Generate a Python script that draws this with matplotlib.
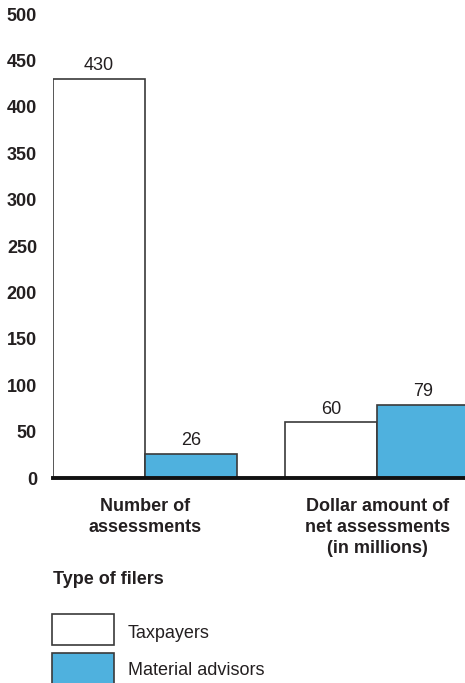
import matplotlib.pyplot as plt
from matplotlib.patches import Rectangle

plt.rcParams['font.family'] = ['Liberation Sans', 'DejaVu Sans']

# data
categories = ["Number of\nassessments", "Dollar amount of\nnet assessments\n(in millions)"]
taxpayers = [430, 60]
advisors = [26, 79]
series_names = ["Taxpayers", "Material advisors"]
yticks = [0, 50, 100, 150, 200, 250, 300, 350, 400, 450, 500]

txt = "#231f20"
blue = "#4fb1de"
edge = "#3a3a3a"
fs = 13

fig = plt.figure(figsize=(4.65, 6.83), dpi=100)
ax = fig.add_axes([0.114, 0.300, 0.886, 0.6795])

w = 0.397
xs = [0, 1]
b1 = ax.bar([x - w / 2 for x in xs], taxpayers, width=w, color="white",
            edgecolor=edge, linewidth=1.2)
b2 = ax.bar([x + w / 2 for x in xs], advisors, width=w, color=blue,
            edgecolor=edge, linewidth=1.2)

for bars, vals in [(b1, taxpayers), (b2, advisors)]:
    for r, v in zip(bars, vals):
        ax.text(r.get_x() + r.get_width() / 2, v + 5, str(v), ha="center",
                va="bottom", fontsize=fs, color=txt)

ax.set_xlim(-0.397, 1.379)
ax.set_ylim(0, 500)
ax.set_yticks(yticks)
ax.set_yticklabels([str(t) for t in yticks], fontweight="bold", fontsize=fs, color=txt)
ax.tick_params(axis="y", length=0, pad=11.5)
ax.set_xticks([])
for s in ["top", "right", "left"]:
    ax.spines[s].set_visible(False)
ax.spines["bottom"].set_linewidth(2.8)
ax.spines["bottom"].set_color("#111111")

# category labels under the groups
for x, lab in zip(xs, categories):
    ax.annotate(lab, xy=(x, 0), xycoords=("data", "axes fraction"),
                xytext=(0, -20), textcoords="offset pixels", ha="center", va="top",
                fontsize=fs, fontweight="bold", color=txt, linespacing=1.3)

# legend
fig.text(0.114, 0.151, "Type of filers", fontsize=fs, fontweight="bold",
         color=txt, va="center", ha="left")
fig.patches.append(Rectangle((0.112, 0.0556), 0.133, 0.0454, transform=fig.transFigure,
                             facecolor="white", edgecolor=edge, linewidth=1.2))
fig.patches.append(Rectangle((0.112, -0.003), 0.133, 0.0469, transform=fig.transFigure,
                             facecolor=blue, edgecolor=edge, linewidth=1.2))
fig.text(0.275, 0.073, series_names[0], fontsize=fs, color=txt, va="center")
fig.text(0.275, 0.019, series_names[1], fontsize=fs, color=txt, va="center")

fig.savefig("out.png", dpi=100)
